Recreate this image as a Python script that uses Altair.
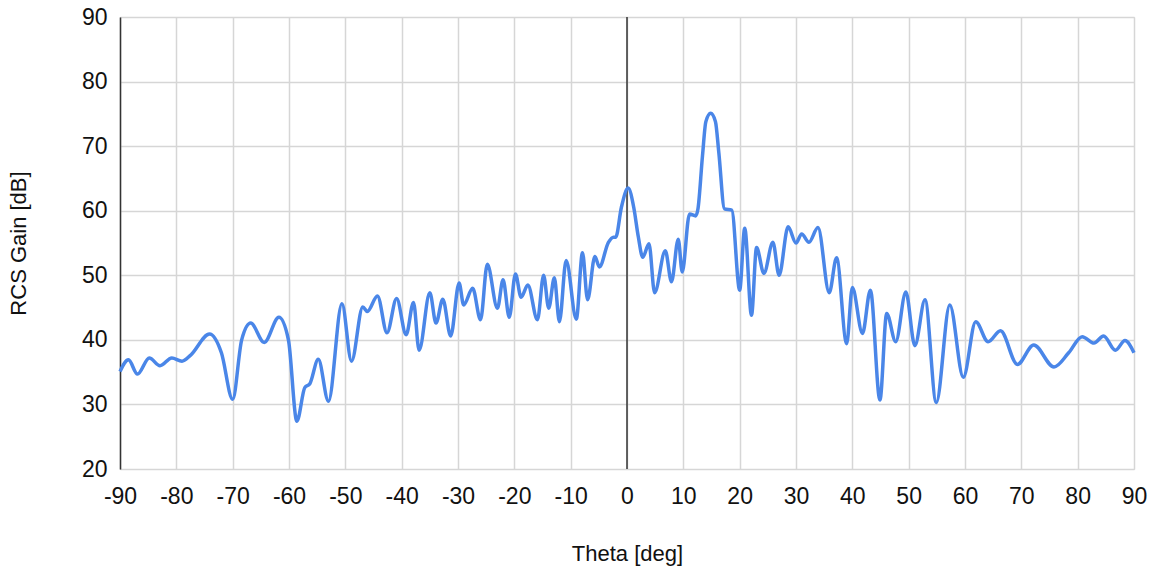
import altair as alt
import pandas as pd

theta = [
    -90.0, -88.5, -86.9, -84.8, -82.9, -80.8, -79.0, -77.5, -74.1, -72.0,
    -70.0, -68.4, -66.8, -64.4, -61.8, -60.1, -58.6, -57.2, -56.3, -54.8,
    -53.0, -50.6, -48.9, -46.9, -46.1, -44.3, -42.6, -40.9, -39.2, -37.9,
    -36.9, -35.0, -33.9, -32.7, -31.3, -29.8, -29.0, -27.4, -26.0, -24.8,
    -23.0, -22.0, -20.9, -19.8, -18.8, -17.6, -15.9, -14.8, -13.9, -12.9,
    -12.0, -10.8, -9.0, -7.9, -7.0, -5.7, -4.9, -3.3, -2.4, -2.0,
    -1.0, 0.2, 1.2, 2.0, 2.8, 3.9, 4.9, 6.8, 7.9, 9.1, 9.8,
    11.1, 12.2, 12.6, 13.4, 14.0, 14.85, 15.7, 16.3, 17.3, 18.6,
    20.0, 20.9,
    22.1, 23.0, 24.3, 25.9, 27.0, 28.6, 30.0, 31.0, 32.3, 33.9,
    35.9, 37.2, 39.0, 40.0, 41.8, 43.2, 44.9, 46.1, 47.7, 49.5,
    51.1, 52.9, 54.9, 57.3, 59.7, 61.9, 64.1, 66.3, 69.3, 72.2,
    75.8, 78.4, 80.8, 82.9, 84.6, 86.7, 88.4, 90.0,
]
gain = [
    35.1, 36.9, 34.7, 37.2, 36.0, 37.2, 36.7, 37.6, 40.9, 38.0,
    30.8, 40.0, 42.6, 39.6, 43.5, 40.0, 27.4, 32.6, 33.2, 37.0,
    30.5, 45.6, 36.7, 45.1, 44.4, 46.8, 41.1, 46.4, 40.8, 45.8,
    38.4, 47.3, 42.6, 46.3, 40.6, 48.8, 45.4, 48.0, 43.1, 51.7,
    44.9, 49.3, 43.5, 50.2, 46.6, 48.5, 43.1, 50.0, 44.9, 49.6,
    42.8, 52.3, 43.2, 53.5, 46.2, 52.9, 51.3, 55.1, 55.9, 55.9,
    60.5, 63.5, 60.5, 56.0, 52.8, 54.9, 47.3, 53.8, 49.0, 55.6, 50.5,
    59.5, 59.2, 60.3, 68.5, 73.8, 75.1, 73.8, 69.0, 60.3, 60.1,
    47.7, 57.3,
    43.8, 54.3, 50.3, 55.1, 50.0, 57.5, 55.0, 56.4, 55.1, 57.4,
    47.3, 52.7, 39.4, 48.1, 41.0, 47.7, 30.7, 44.1, 39.7, 47.4,
    39.1, 46.2, 30.3, 45.4, 34.2, 42.8, 39.7, 41.4, 36.2, 39.2,
    35.8, 38.0, 40.5, 39.5, 40.6, 38.4, 39.9, 38.0,
]

x_ticks = list(range(-90, 91, 10))
y_ticks = list(range(20, 91, 10))

df = pd.DataFrame({"theta": theta, "gain": gain})

x_scale = alt.Scale(domain=[-90, 90], nice=False, zero=False)
y_scale = alt.Scale(domain=[20, 90], nice=False, zero=False)

FONT = "Liberation Sans"
TEXT = "#111111"

zero_rule = alt.Chart(pd.DataFrame({"x": [0]})).mark_rule(
    color="#333333", strokeWidth=1.5
).encode(x=alt.X("x:Q", scale=x_scale))

line = alt.Chart(df).mark_line(
    color="#4a86e8", strokeWidth=3.5, interpolate="monotone"
).encode(
    x=alt.X(
        "theta:Q",
        scale=x_scale,
        axis=alt.Axis(
            title="Theta [deg]",
            values=x_ticks,
            labelExpr="'' + datum.value",
            labelOverlap=False,
            labelFlush=False,
            labelBound=False,
            ticks=False,
            tickSize=0,
            domain=False,
            labelPadding=16,
            labelFontSize=23,
            labelColor=TEXT,
            labelFont=FONT,
            titleFont=FONT,
            titleFontSize=22,
            titleFontWeight="normal",
            titleColor=TEXT,
            titleBaseline="middle",
            titleY=84,
            gridColor="#d6d6d6",
            gridWidth=1.5,
        ),
    ),
    y=alt.Y(
        "gain:Q",
        scale=y_scale,
        axis=alt.Axis(
            title="RCS Gain [dB]",
            values=y_ticks,
            labelExpr="'' + datum.value",
            labelOverlap=False,
            labelFlush=False,
            ticks=False,
            tickSize=0,
            domainColor="#333333",
            domainWidth=1.5,
            labelPadding=13,
            labelFontSize=23,
            labelColor=TEXT,
            labelFont=FONT,
            titleFont=FONT,
            titleFontSize=22,
            titleFontWeight="normal",
            titleColor=TEXT,
            titleBaseline="middle",
            titleX=-102,
            titleY=226,
            gridColor="#d6d6d6",
            gridWidth=1.5,
        ),
    ),
)

chart = alt.layer(zero_rule, line).properties(
    width=1014,
    height=452,
    autosize=alt.AutoSizeParams(type="none"),
    padding={"left": 120, "top": 17, "right": 22, "bottom": 102},
).configure_view(stroke=None).configure(background="white")

chart.save("out.html", embed_options={"renderer": "svg", "actions": False})
